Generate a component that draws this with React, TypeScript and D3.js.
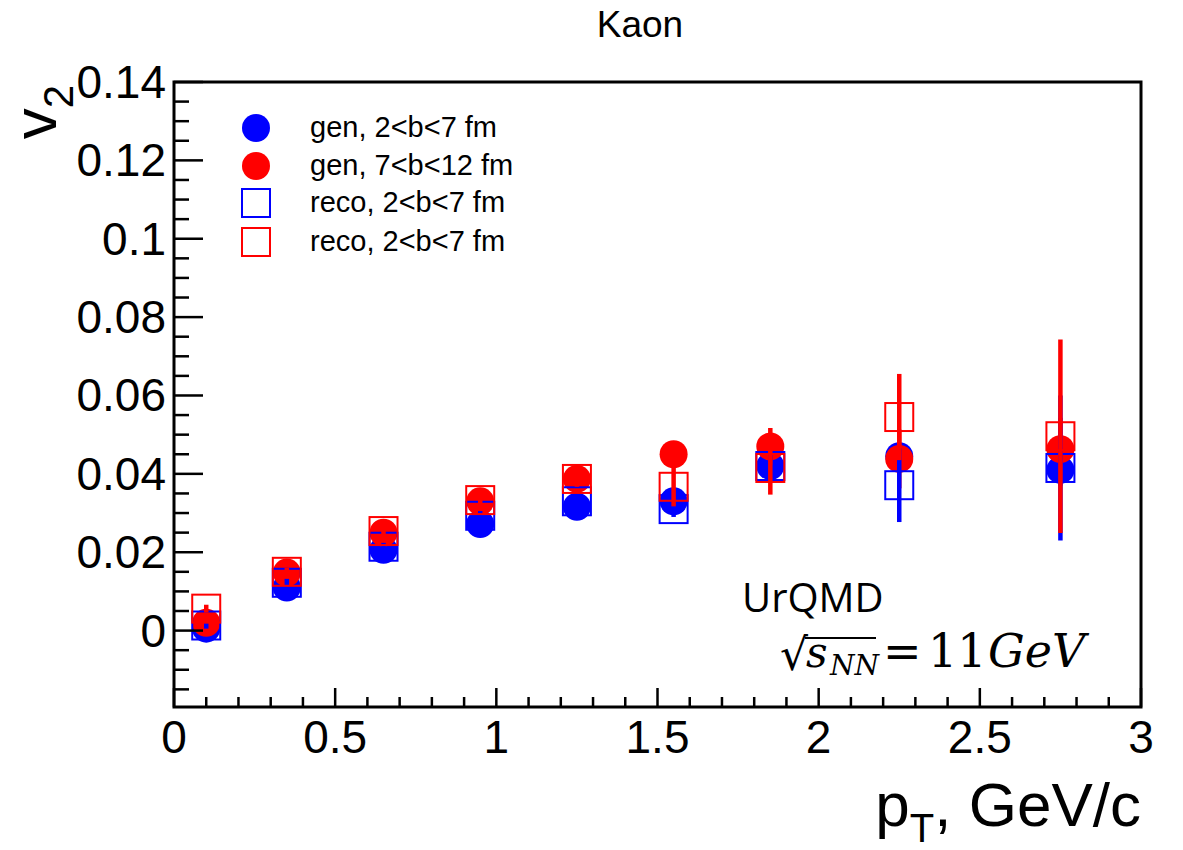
import React from "react";
import * as d3 from "d3";

// pT bin centres, GeV/c
const ptBins = [0.1, 0.35, 0.65, 0.95, 1.25, 1.55, 1.85, 2.25, 2.75];

// v2 values
const genCentral = [0.0005, 0.011, 0.0206, 0.0272, 0.0316, 0.033, 0.042, 0.0445, 0.041];
const genCentralErr = [0.0005, 0.0005, 0.0005, 0.0007, 0.0008, 0.001, 0.0015, 0.003, 0.004];
const genPeripheral = [0.002, 0.0148, 0.025, 0.033, 0.0387, 0.045, 0.047, 0.0438, 0.0463];
const genPeripheralErr = [0.001, 0.001, 0.001, 0.0012, 0.0015, 0.002, 0.0047, 0.0075, 0.008];
const recoCentral = [0.0013, 0.0122, 0.0214, 0.0293, 0.033, 0.031, 0.042, 0.0371, 0.0415];
const recoCentralErr = [0.0008, 0.001, 0.001, 0.0012, 0.0015, 0.002, 0.003, 0.0094, 0.0185];
const recoPeripheral = [0.0056, 0.015, 0.0254, 0.0333, 0.0387, 0.0367, 0.0415, 0.0545, 0.0496];
const recoPeripheralErr = [0.001, 0.001, 0.0012, 0.0015, 0.002, 0.005, 0.0068, 0.011, 0.0247];

const legendLabels = ["gen, 2<b<7 fm", "gen, 7<b<12 fm", "reco, 2<b<7 fm", "reco, 2<b<7 fm"];
const xTickLabels = ["0", "0.5", "1", "1.5", "2", "2.5", "3"];
const yTickLabels = ["0", "0.02", "0.04", "0.06", "0.08", "0.1", "0.12", "0.14"];

const W = 1183, H = 850;
const left = 174, right = 1141, top = 82, bottom = 707;
const BLUE = "#0000ff", RED = "#ff0000";
const rootFont = "'Liberation Sans', Arial, Helvetica, sans-serif";
const mathFont = "'DejaVu Serif', 'Liberation Serif', serif";

export default function App() {
  const x = d3.scaleLinear().domain([0, 3]).range([left, right]);
  const y = d3.scaleLinear().domain([-0.0195, 0.14]).range([bottom, top]);

  const xMinor = d3.range(0, 3.0001, 0.1);
  const yMinor = d3.range(-0.015, 0.1401, 0.005);

  const series = [
    { vals: genCentral, errs: genCentralErr, color: BLUE, kind: "circle" },
    { vals: genPeripheral, errs: genPeripheralErr, color: RED, kind: "circle" },
    { vals: recoCentral, errs: recoCentralErr, color: BLUE, kind: "square" },
    { vals: recoPeripheral, errs: recoPeripheralErr, color: RED, kind: "square" },
  ];

  const marker = (kind, color, cx, cy, key) =>
    kind === "circle" ? (
      <circle key={key} cx={cx} cy={cy} r={14} fill={color} />
    ) : (
      <rect key={key} x={cx - 14} y={cy - 14} width={28} height={28} fill="none" stroke={color} strokeWidth={2} />
    );

  return (
    <svg width={W} height={H} style={{ position: "absolute", left: 0, top: 0, background: "#fff" }}>
      <rect width={W} height={H} fill="#fff" />

      {/* title */}
      <text x={640} y={37} textAnchor="middle" fontFamily={rootFont} fontSize={37}>Kaon</text>

      {/* data */}
      {series.map((s, si) => (
        <g key={si}>
          {ptBins.map((pt, i) => (
            <g key={i}>
              <line x1={x(pt)} x2={x(pt)} y1={y(s.vals[i] - s.errs[i])} y2={y(s.vals[i] + s.errs[i])}
                stroke={s.color} strokeWidth={4.5} />
              {marker(s.kind, s.color, x(pt), y(s.vals[i]), "m")}
            </g>
          ))}
        </g>
      ))}

      {/* frame */}
      <rect x={left} y={top} width={right - left} height={bottom - top} fill="none" stroke="#000" strokeWidth={3} />

      {/* x ticks */}
      {xMinor.map((v, i) => (
        <line key={i} x1={x(v)} x2={x(v)} y1={bottom} y2={bottom - (i % 5 === 0 ? 19 : 10)} stroke="#000" strokeWidth={2.5} />
      ))}
      {xTickLabels.map((t) => (
        <text key={t} x={x(+t)} y={753} textAnchor="middle" fontFamily={rootFont} fontSize={46}>{t}</text>
      ))}

      {/* y ticks */}
      {yMinor.map((v, i) => {
        const major = Math.abs(Math.round(v / 0.005)) % 4 === 0;
        return (
          <line key={i} x1={left} x2={left + (major ? 29 : 15)} y1={y(v)} y2={y(v)} stroke="#000" strokeWidth={2.5} />
        );
      })}
      {yTickLabels.map((t) => (
        <text key={t} x={166} y={y(+t) + 16} textAnchor="end" fontFamily={rootFont} fontSize={46}>{t}</text>
      ))}

      {/* axis titles */}
      <text transform="translate(56,85) rotate(-90)" textAnchor="end" fontFamily={rootFont} fontSize={62}>
        v<tspan dy={17} fontSize={42}>2</tspan>
      </text>
      <text x={right} y={826} textAnchor="end" fontFamily={rootFont} fontSize={62}>
        p<tspan dy={16} fontSize={40}>T</tspan><tspan dy={-16}>, GeV/c</tspan>
      </text>

      {/* legend */}
      {legendLabels.map((lab, i) => {
        const cy = [128, 166, 203, 242][i];
        const s = series[i];
        return (
          <g key={i}>
            {marker(s.kind, s.color, 256, cy, "lm")}
            <text x={310} y={cy + 9} fontFamily={rootFont} fontSize={29}>{lab}</text>
          </g>
        );
      })}

      {/* annotation */}
      <text x={742} y={612} fontFamily="'Open Sans', 'Noto Sans', sans-serif" fontSize={40}>UrQMD</text>
      <text x={780} y={670} fontFamily={mathFont} fontSize={44}>√</text>
      <line x1={805} x2={876} y1={638} y2={638} stroke="#000" strokeWidth={2.2} />
      <text x={806} y={667} fontFamily={mathFont} fontStyle="italic" fontSize={42}>s</text>
      <text x={830} y={675} fontFamily={mathFont} fontStyle="italic" fontSize={28}>NN</text>
      <text x={883} y={667} fontFamily={mathFont} fontSize={46}>=</text>
      <text x={928} y={667} fontFamily={mathFont} fontSize={46}>11</text>
      <text x={988} y={667} fontFamily={mathFont} fontStyle="italic" fontSize={46}>GeV</text>
    </svg>
  );
}
